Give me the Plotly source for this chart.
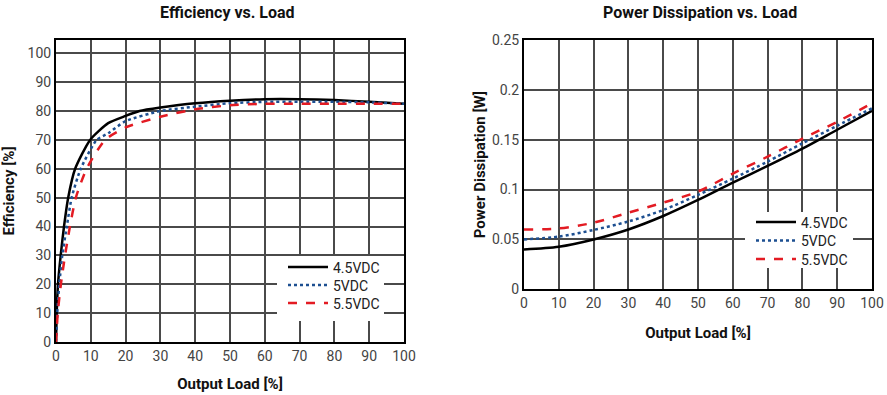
import plotly.graph_objects as go

# ---- Data: Efficiency vs. Load ----
eff_load_45 = [0, 0.2, 0.57, 1.35, 2.3, 3.5, 5.5, 9.8, 15, 20, 24, 30, 40, 50, 60, 70, 80, 90, 100]
eff_45 = [0, 10, 20, 30, 40, 50, 60, 70, 75.8, 78.3, 80, 81.2, 82.7, 83.6, 84.1, 84.1, 83.8, 83.2, 82.5]

eff_load_50 = [0, 0.35, 0.95, 1.8, 3.1, 4.5, 7.1, 11.7, 15, 20, 30, 40, 50, 60, 70, 80, 90, 100]
eff_50 = [0, 10, 20, 30, 40, 50, 60, 70, 72.3, 76.5, 80, 81.5, 82.7, 83.2, 83.2, 83.2, 83, 82.5]

eff_load_55 = [0, 0.5, 1.4, 2.6, 4.0, 5.7, 8.8, 14.1, 20, 30, 40, 50, 60, 70, 80, 90, 100]
eff_55 = [0, 10, 20, 30, 40, 50, 60, 70, 74.3, 78, 80.6, 82, 82.5, 82.5, 82.5, 82.5, 82.5]

# ---- Data: Power Dissipation vs. Load ----
pd_load = [0, 10, 20, 30, 40, 50, 60, 70, 80, 90, 100]
pd_45 = [0.040, 0.0427, 0.050, 0.060, 0.0735, 0.0896, 0.107, 0.1237, 0.141, 0.160, 0.179]
pd_50 = [0.050, 0.0528, 0.0595, 0.068, 0.0795, 0.0946, 0.111, 0.128, 0.1464, 0.164, 0.1815]
pd_55 = [0.060, 0.061, 0.0668, 0.0768, 0.0869, 0.098, 0.116, 0.133, 0.151, 0.168, 0.1865]

series_names = ["4.5VDC", "5VDC", "5.5VDC"]
x_ticks = [0, 10, 20, 30, 40, 50, 60, 70, 80, 90, 100]
eff_ticks = [0, 10, 20, 30, 40, 50, 60, 70, 80, 90, 100]
pd_ticks = [0, 0.05, 0.1, 0.15, 0.2, 0.25]
pd_tick_text = ["0", "0.05", "0.1", "0.15", "0.2", "0.25"]

FONT = "Roboto, Liberation Sans, sans-serif"
colors = ["#000000", "#1d4f91", "#e31b23"]
dashes = ["solid", "dot", "dash"]

W, H = 887, 395
def px_x(p):
    return p / W
def px_y(p):
    return (H - p) / H

# legend item positions (pixels) per panel
left_leg_x, left_leg_y = 283, [267.5, 285.5, 303.5]
right_leg_x, right_leg_y = 751, [222.5, 241, 259.5]

fig = go.Figure()

eff_x = [eff_load_45, eff_load_50, eff_load_55]
eff_y = [eff_45, eff_50, eff_55]
for i in range(3):
    fig.add_trace(go.Scatter(
        x=eff_x[i], y=eff_y[i], mode="lines", name=series_names[i],
        line=dict(color=colors[i], width=2.5, dash=dashes[i], shape="spline", smoothing=0.6),
        xaxis="x", yaxis="y", legend=f"legend{i + 1 if i > 0 else ''}",
    ))

pd_y = [pd_45, pd_50, pd_55]
for i in range(3):
    fig.add_trace(go.Scatter(
        x=pd_load, y=pd_y[i], mode="lines", name=series_names[i],
        line=dict(color=colors[i], width=2.5, dash=dashes[i], shape="spline", smoothing=0.8),
        xaxis="x2", yaxis="y2", legend=f"legend{i + 4}",
    ))

axis_common = dict(
    showgrid=True, gridcolor="#4a4a4a", gridwidth=1.5,
    showline=True, linecolor="#000000", linewidth=2, mirror=True,
    zeroline=False, ticks="", automargin=False,
    tickfont=dict(family=FONT, size=14, color="#444444"),
)
title_font = dict(family=FONT, size=15, color="#111", weight="bold")
leg_font = dict(family=FONT, size=14, color="#222")

legends = {}
for i in range(3):
    key = "legend" if i == 0 else f"legend{i + 1}"
    legends[key] = dict(x=px_x(left_leg_x), y=px_y(left_leg_y[i]), xanchor="left", yanchor="middle",
                        bgcolor="rgba(0,0,0,0)", borderwidth=0, font=leg_font, itemwidth=40)
    legends[f"legend{i + 4}"] = dict(x=px_x(right_leg_x), y=px_y(right_leg_y[i]), xanchor="left",
                                     yanchor="middle", bgcolor="rgba(0,0,0,0)", borderwidth=0,
                                     font=leg_font, itemwidth=40)

fig.update_layout(
    width=W, height=H,
    margin=dict(l=0, r=0, t=0, b=0, autoexpand=False),
    paper_bgcolor="white", plot_bgcolor="white",
    font=dict(family=FONT),
    xaxis=dict(domain=[px_x(56), px_x(404)], range=[0, 100], tickvals=x_ticks,
               title=dict(text="Output Load [%]", font=title_font, standoff=16),
               anchor="y", **axis_common),
    yaxis=dict(domain=[px_y(342), px_y(40)], range=[0, 104.6], tickvals=eff_ticks,
               title=dict(text="Efficiency [%]", font=title_font, standoff=10),
               anchor="x", **axis_common),
    xaxis2=dict(domain=[px_x(524), px_x(872)], range=[0, 100], tickvals=x_ticks,
                title=dict(text="Output Load [%]", font=title_font, standoff=17),
                anchor="y2", **axis_common),
    yaxis2=dict(domain=[px_y(289.3), px_y(40)], range=[0, 0.25], tickvals=pd_ticks, ticktext=pd_tick_text,
                title=dict(text="Power Dissipation [W]", font=title_font, standoff=3),
                anchor="x2", **axis_common),
    showlegend=True,
    shapes=[
        dict(type="rect", xref="paper", yref="paper", layer="above",
             x0=px_x(277), x1=px_x(384), y0=px_y(321), y1=px_y(256),
             fillcolor="white", line=dict(width=0)),
        dict(type="rect", xref="paper", yref="paper", layer="above",
             x0=px_x(745), x1=px_x(853), y0=px_y(268), y1=px_y(212),
             fillcolor="white", line=dict(width=0)),
    ],
    annotations=[
        dict(text="Efficiency vs. Load", x=px_x(228), y=px_y(12), xref="paper", yref="paper",
             xanchor="center", yanchor="middle", showarrow=False,
             font=dict(family=FONT, size=16, color="#111", weight="bold")),
        dict(text="Power Dissipation vs. Load", x=px_x(700), y=px_y(12), xref="paper", yref="paper",
             xanchor="center", yanchor="middle", showarrow=False,
             font=dict(family=FONT, size=16, color="#111", weight="bold")),
    ],
    **legends,
)

fig.write_html("out.html", config={"displayModeBar": False},
               post_script="document.body.style.margin='0';document.body.style.overflow='hidden';")
